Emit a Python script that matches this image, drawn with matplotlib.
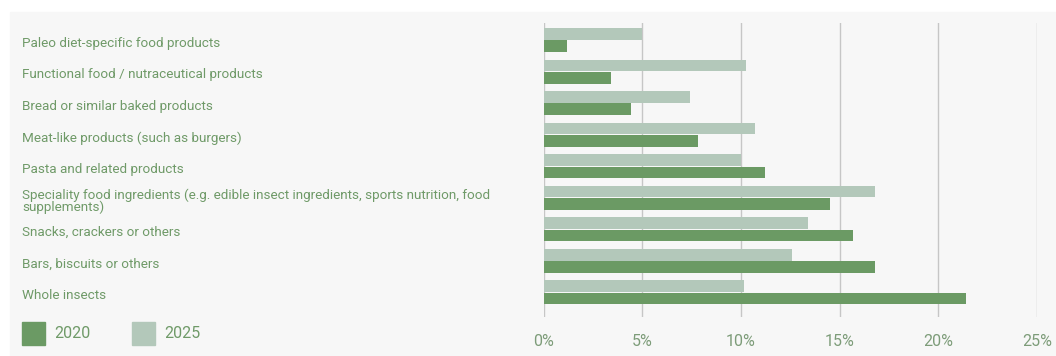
import matplotlib.pyplot as plt
from matplotlib.patches import Rectangle
from matplotlib.transforms import blended_transform_factory
import numpy as np

plt.rcParams['font.family'] = ['Roboto', 'DejaVu Sans']

categories = [
    "Paleo diet-specific food products",
    "Functional food / nutraceutical products",
    "Bread or similar baked products",
    "Meat-like products (such as burgers)",
    "Pasta and related products",
    "Speciality food ingredients (e.g. edible insect ingredients, sports nutrition, food\nsupplements)",
    "Snacks, crackers or others",
    "Bars, biscuits or others",
    "Whole insects",
]
share_2020 = [1.2, 3.4, 4.4, 7.8, 11.2, 14.5, 15.7, 16.8, 21.4]
share_2025 = [5.0, 10.25, 7.4, 10.7, 10.0, 16.8, 13.4, 12.6, 10.15]
ticks = [0, 5, 10, 15, 20, 25]

dark = "#6b9a64"
light = "#b3c8ba"
text_col = "#6f9a68"

fig = plt.figure(figsize=(10.56, 3.56), dpi=100)
fig.patch.set_facecolor("white")
fig.patches.append(Rectangle((10 / 1056, 0), 1, (356 - 12) / 356,
                             transform=fig.transFigure, color="#f7f7f7", zorder=-5))

ax = fig.add_axes([543.7 / 1056, 39 / 356, (1037 - 543.7) / 1056, (317 - 23) / 356])
ax.set_facecolor("none")

y = np.arange(len(categories))
h = 0.37
ax.barh(y - h / 2 - 0.01, share_2025, height=h, color=light, zorder=2)
ax.barh(y + h / 2 + 0.01, share_2020, height=h, color=dark, zorder=2)

ax.set_xlim(0, 25)
ax.set_ylim(8.78, -0.54)
ax.set_xticks(ticks)
ax.set_xticklabels([f"{t}%" for t in ticks], color="#7d9c79", fontsize=11.5)
ax.tick_params(axis="x", length=0, pad=12)
ax.set_yticks([])
ax.grid(axis="x", color="#c6c6c6", lw=1, zorder=1)
for s in ax.spines.values():
    s.set_visible(False)

tr = blended_transform_factory(fig.transFigure, ax.transData)
for i, name in enumerate(categories):
    ax.text(22 / 1056, i + 0.1, name, transform=tr, ha="left", va="center",
            color=text_col, fontsize=9.7, linespacing=0.85)

# legend swatches along the bottom
for x0, label, col in [(22, "2020", dark), (132, "2025", light)]:
    fig.patches.append(Rectangle((x0 / 1056, 11 / 356), 22.5 / 1056, 23.5 / 356,
                                 transform=fig.transFigure, color=col, zorder=1))
    fig.text((x0 + 32) / 1056, 22 / 356, label, color=text_col, fontsize=11.5,
             va="center", ha="left")

fig.savefig("out.png", dpi=100)
